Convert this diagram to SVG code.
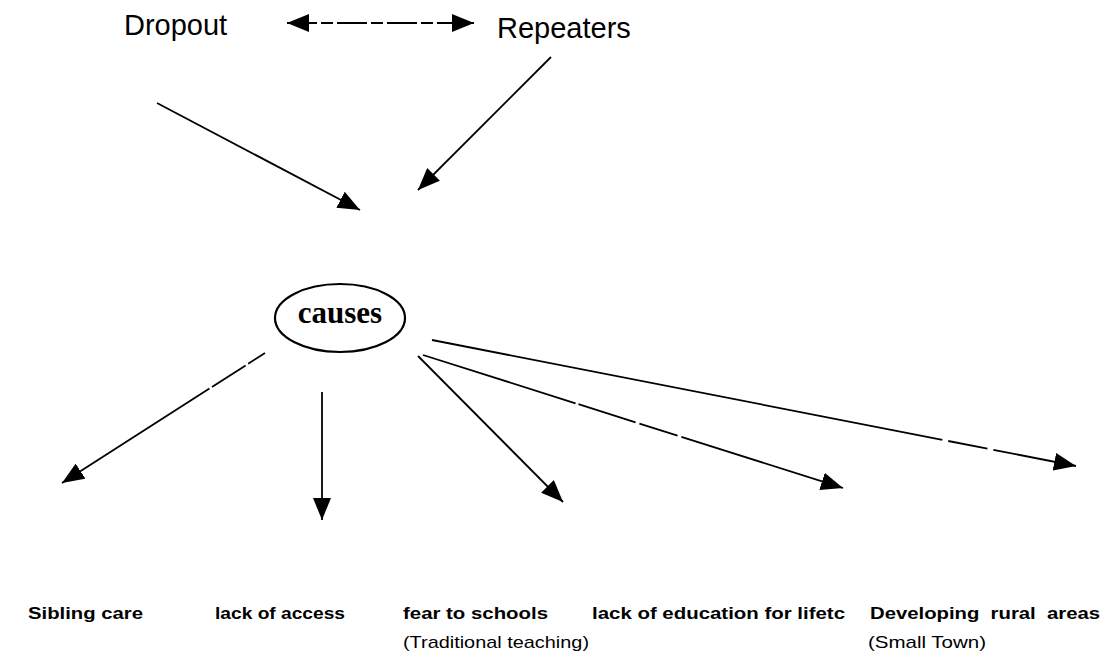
<svg xmlns="http://www.w3.org/2000/svg" width="1109" height="663" viewBox="0 0 1109 663">
<defs>
<style>
.top{font-family:"Liberation Sans",Arial,sans-serif;font-size:29px;fill:#000}
.lbl{font-family:"Liberation Sans",Arial,sans-serif;font-size:17px;font-weight:bold;fill:#000}
.sub{font-family:"Liberation Sans",Arial,sans-serif;font-size:17px;fill:#000}
.ln{stroke:#000;stroke-width:1.8;fill:none}
.dash{stroke-dasharray:30 4 12 4}
.brk{stroke-dasharray:160 3 60 4 40 4}
</style>
<marker id="ah" viewBox="0 0 22 18" refX="22" refY="9" markerWidth="22" markerHeight="18" markerUnits="userSpaceOnUse" orient="auto-start-reverse">
<path d="M0,0 L22,9 L0,18 Z" fill="#000"/>
</marker>
</defs>
<rect width="1109" height="663" fill="#fff"/>
<g id="dropout"><text class="top" x="124" y="35">Dropout</text></g>
<g id="repeaters"><text class="top" x="497" y="38">Repeaters</text></g>
<g id="causes">
<ellipse cx="340" cy="318" rx="65" ry="34" fill="none" stroke="#000" stroke-width="2.2"/>
<text x="340" y="323" text-anchor="middle" font-family="'Liberation Serif','Times New Roman',serif" font-weight="bold" font-size="31">causes</text>
</g>
<g id="sibling"><text class="lbl" x="28" y="619" textLength="115" lengthAdjust="spacingAndGlyphs">Sibling care</text></g>
<g id="access"><text class="lbl" x="215" y="619" textLength="130" lengthAdjust="spacingAndGlyphs">lack of access</text></g>
<g id="fear"><text class="lbl" x="403" y="619" textLength="145" lengthAdjust="spacingAndGlyphs">fear to schools</text><text class="sub" x="403" y="648" textLength="186" lengthAdjust="spacingAndGlyphs">(Traditional teaching)</text></g>
<g id="education"><text class="lbl" x="592" y="619" textLength="253" lengthAdjust="spacingAndGlyphs">lack of education for lifetc</text></g>
<g id="rural"><text class="lbl" x="870" y="619" textLength="230" lengthAdjust="spacingAndGlyphs" xml:space="preserve">Developing  rural  areas</text><text class="sub" x="868" y="648" textLength="118" lengthAdjust="spacingAndGlyphs">(Small Town)</text></g>
<g id="connectors">
<line class="ln dash" x1="287" y1="23" x2="474" y2="23" marker-start="url(#ah)" marker-end="url(#ah)"/>
<line class="ln" x1="157" y1="103" x2="360" y2="210" marker-end="url(#ah)"/>
<line class="ln" x1="551" y1="57" x2="418" y2="190" marker-end="url(#ah)"/>
<line class="ln" x1="265" y1="353" x2="62" y2="483" stroke-dasharray="20 3 40 3 200" marker-end="url(#ah)"/>
<line class="ln" x1="322" y1="392" x2="322" y2="520" marker-end="url(#ah)"/>
<line class="ln" x1="418" y1="356" x2="563" y2="502" marker-end="url(#ah)"/>
<line class="ln brk" x1="423" y1="355" x2="843" y2="488" marker-end="url(#ah)"/>
<line class="ln" x1="432" y1="340" x2="1076" y2="466" stroke-dasharray="520 6 40 6 200" marker-end="url(#ah)"/>
</g>
</svg>
